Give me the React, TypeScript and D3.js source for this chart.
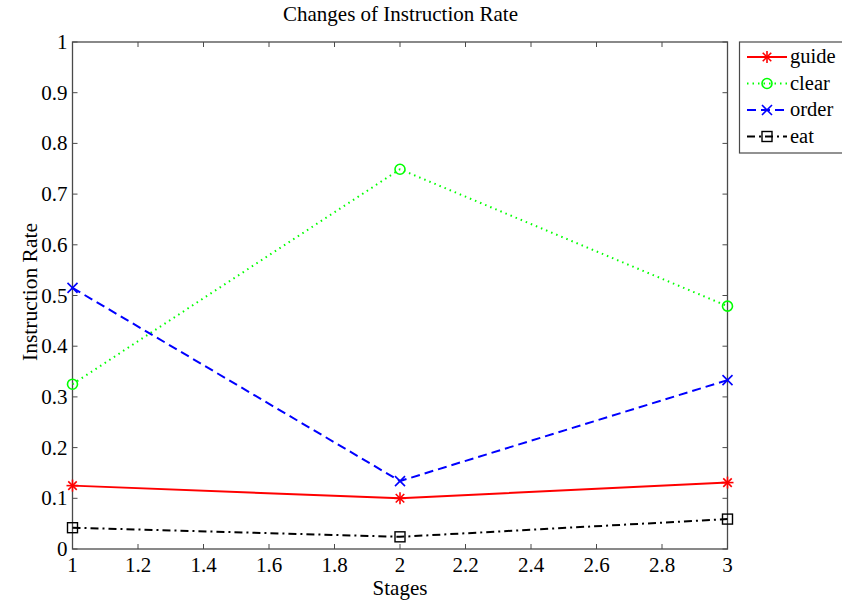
import React, { useEffect, useRef } from "react";
import * as d3 from "d3";

const stages = [1, 2, 3];
const guide = [0.125, 0.1, 0.131];
const clear = [0.325, 0.749, 0.479];
const order = [0.515, 0.134, 0.333];
const eat = [0.042, 0.024, 0.059];

const xTicks = [1, 1.2, 1.4, 1.6, 1.8, 2, 2.2, 2.4, 2.6, 2.8, 3];
const yTicks = [0, 0.1, 0.2, 0.3, 0.4, 0.5, 0.6, 0.7, 0.8, 0.9, 1];

const series = [
  { name: "guide", values: guide, color: "#ff0000", dash: "none", marker: "star" },
  { name: "clear", values: clear, color: "#00ff00", dash: "1.5,4", marker: "circle" },
  { name: "order", values: order, color: "#0000ff", dash: "9,5", marker: "x" },
  { name: "eat", values: eat, color: "#000000", dash: "8,4,2,4", marker: "square" },
];

const W = 842;
const H = 600;
const margin = { top: 42, right: 114.5, bottom: 51, left: 72.5 };

const App = () => {
  const ref = useRef<SVGSVGElement>(null);

  useEffect(() => {
    const svg = d3.select(ref.current);
    svg.selectAll("*").remove();
    const font = "'Liberation Serif', 'DejaVu Serif', serif";

    const x = d3.scaleLinear().domain([1, 3]).range([margin.left, W - margin.right]);
    const y = d3.scaleLinear().domain([0, 1]).range([H - margin.bottom, margin.top]);

    const x0 = x.range()[0], x1 = x.range()[1];
    const y0 = y.range()[0], y1 = y.range()[1];

    const axisColor = "#4a4a4a";

    // frame
    svg.append("rect")
      .attr("x", x0).attr("y", y1)
      .attr("width", x1 - x0).attr("height", y0 - y1)
      .attr("fill", "none").attr("stroke", axisColor).attr("stroke-width", 1.3);

    // ticks
    const tl = 5;
    const tg = svg.append("g").attr("stroke", axisColor).attr("stroke-width", 1);
    xTicks.forEach((t) => {
      tg.append("line").attr("x1", x(t)).attr("x2", x(t)).attr("y1", y0).attr("y2", y0 - tl);
      tg.append("line").attr("x1", x(t)).attr("x2", x(t)).attr("y1", y1).attr("y2", y1 + tl);
    });
    yTicks.forEach((t) => {
      tg.append("line").attr("x1", x0).attr("x2", x0 + tl).attr("y1", y(t)).attr("y2", y(t));
      tg.append("line").attr("x1", x1).attr("x2", x1 - tl).attr("y1", y(t)).attr("y2", y(t));
    });

    svg.append("g").selectAll("text").data(xTicks).join("text")
      .attr("x", (d) => x(d)).attr("y", y0 + 23)
      .attr("text-anchor", "middle")
      .attr("font-family", font).attr("font-size", 21)
      .text((d) => d3.format("~g")(d));

    svg.append("g").selectAll("text").data(yTicks).join("text")
      .attr("x", x0 - 5).attr("y", (d) => y(d) + 7)
      .attr("text-anchor", "end")
      .attr("font-family", font).attr("font-size", 21)
      .text((d) => d3.format("~g")(d));

    svg.append("text")
      .attr("x", (x0 + x1) / 2 + 0.5).attr("y", 21)
      .attr("text-anchor", "middle")
      .attr("font-family", font).attr("font-size", 21)
      .text("Changes of Instruction Rate");

    svg.append("text")
      .attr("x", (x0 + x1) / 2).attr("y", 595)
      .attr("text-anchor", "middle")
      .attr("font-family", font).attr("font-size", 21)
      .text("Stages");

    svg.append("text")
      .attr("transform", `translate(37,292) rotate(-90)`)
      .attr("text-anchor", "middle")
      .attr("font-family", font).attr("font-size", 21.5)
      .text("Instruction Rate");

    const drawMarker = (g: any, kind: string, cx: number, cy: number, color: string) => {
      const m = g.append("g").attr("transform", `translate(${cx},${cy})`)
        .attr("stroke", color).attr("fill", "none").attr("stroke-width", 1.6);
      if (kind === "star") {
        const r = 6;
        [0, 45, 90, 135].forEach((a) => {
          const rad = (a * Math.PI) / 180;
          m.append("line")
            .attr("x1", -r * Math.cos(rad)).attr("y1", -r * Math.sin(rad))
            .attr("x2", r * Math.cos(rad)).attr("y2", r * Math.sin(rad));
        });
      } else if (kind === "circle") {
        m.append("circle").attr("r", 5);
      } else if (kind === "x") {
        const r = 5;
        m.append("line").attr("x1", -r).attr("y1", -r).attr("x2", r).attr("y2", r);
        m.append("line").attr("x1", -r).attr("y1", r).attr("x2", r).attr("y2", -r);
      } else if (kind === "square") {
        m.append("rect").attr("x", -5).attr("y", -5).attr("width", 10).attr("height", 10)
          .attr("stroke-width", 1.4);
      }
    };

    const line = d3.line<number>()
      .x((d, i) => x(stages[i]))
      .y((d) => y(d));

    series.forEach((s) => {
      svg.append("path")
        .datum(s.values)
        .attr("fill", "none")
        .attr("stroke", s.color)
        .attr("stroke-width", 2)
        .attr("stroke-dasharray", s.dash)
        .attr("d", line);
      s.values.forEach((v, i) => drawMarker(svg, s.marker, x(stages[i]), y(v), s.color));
    });

    // legend
    const lg = svg.append("g");
    lg.append("rect")
      .attr("x", 739.5).attr("y", 42)
      .attr("width", 110).attr("height", 111)
      .attr("fill", "#fff").attr("stroke", axisColor).attr("stroke-width", 1.2);
    series.forEach((s, i) => {
      const ly = 57 + i * 26.5;
      lg.append("line")
        .attr("x1", 747).attr("x2", 787).attr("y1", ly).attr("y2", ly)
        .attr("stroke", s.color).attr("stroke-width", 2)
        .attr("stroke-dasharray", s.dash);
      drawMarker(lg, s.marker, 767, ly, s.color);
      lg.append("text")
        .attr("x", 790).attr("y", ly + 6)
        .attr("font-family", font).attr("font-size", 20.5)
        .text(s.name);
    });
  }, []);

  return (
    <svg ref={ref} width={W} height={H} style={{ position: "absolute", left: 0, top: 0, background: "#fff" }} />
  );
};

export default App;
